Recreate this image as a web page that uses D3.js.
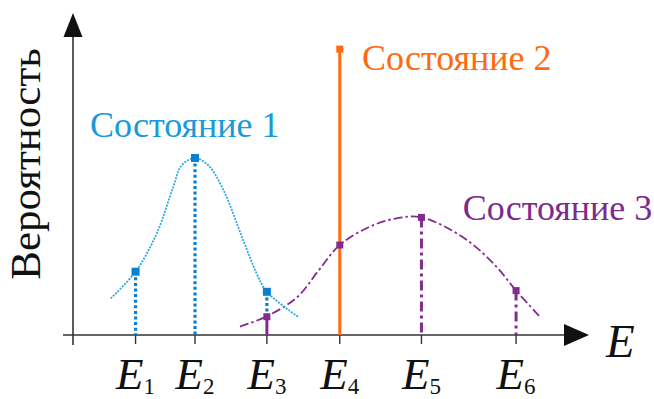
<!DOCTYPE html>
<html>
<head>
<meta charset="utf-8">
<script src="https://cdn.jsdelivr.net/npm/d3@7"></script>
<style>
  @font-face { font-family: "ChartSerif"; src: local("Liberation Serif"); font-style: normal; }
  @font-face { font-family: "ChartSerif"; src: local("Liberation Serif Italic"), local("LiberationSerif-Italic"); font-style: italic; }
  body { margin: 0; background: #fff; }
  svg text, svg tspan { font-family: "Liberation Serif", "ChartSerif", serif !important; }
</style>
</head>
<body>
<div id="chart"></div>
<script>
// energy levels (arbitrary units) and their labels
const levels = [1.21, 2.36, 3.75, 5.16, 6.74, 8.57];
const levelLabels = ["1", "2", "3", "4", "5", "6"];

// state 1 — narrow peak around E2 (curve)
const state1Curve = [
  [0.73, 0.122], [1.21, 0.211], [1.62, 0.339], [1.94, 0.494], [2.10, 0.565],
  [2.36, 0.59], [2.62, 0.565], [2.91, 0.483], [3.29, 0.317], [3.55, 0.206],
  [3.75, 0.144], [4.35, 0.061]
];
const state1Points = [[1.21, 0.211], [2.36, 0.59], [3.75, 0.144]];

// state 2 — single level E4
const state2Points = [[5.16, 0.953]];

// state 3 — broad peak around E5
const state3Curve = [
  [3.23, 0.028], [3.73, 0.061], [4.33, 0.125], [4.75, 0.215], [5.16, 0.30],
  [5.74, 0.361], [6.26, 0.389], [6.74, 0.392], [7.55, 0.325], [8.15, 0.235],
  [8.57, 0.148], [9.03, 0.061]
];
const state3Points = [[3.75, 0.061], [5.16, 0.30], [6.74, 0.392], [8.57, 0.148]];

// state labels: text, anchor position in data units, colour
const stateLabels = [
  { text: "Состояние 1", at: [0.33, 0.66], color: "#1a9ad9" },
  { text: "Состояние 2", at: [5.59, 0.883], color: "#ff6a10" },
  { text: "Состояние 3", at: [7.54, 0.383], color: "#7e2a8c" }
];

const width = 654, height = 399;
const blue = "#2aaae2", blueDark = "#0a7fd0", orange = "#ff6a10", purple = "#832c8e";
const face = '"Liberation Serif", "ChartSerif", serif';

const svg = d3.select("#chart").append("svg")
  .attr("width", width).attr("height", height)
  .style("display", "block");

const x = d3.scaleLinear().domain([0, 10]).range([73, 590]);
const y = d3.scaleLinear().domain([0, 1]).range([335, 35]);

const x0 = x(0), y0 = y(0);

// axes
svg.append("line")
  .attr("x1", x0 - 10).attr("x2", 575).attr("y1", y0).attr("y2", y0)
  .attr("stroke", "#333").attr("stroke-width", 1.6);
svg.append("line")
  .attr("x1", x0).attr("x2", x0).attr("y1", y0 + 10).attr("y2", 30)
  .attr("stroke", "#333").attr("stroke-width", 1.6);
svg.append("path")
  .attr("d", `M589,${y0} L564,${y0 - 11} L564,${y0 + 11} Z`)
  .attr("fill", "#111");
svg.append("path")
  .attr("d", `M${x0},13 L${x0 - 9.5},37 L${x0 + 9.5},37 Z`)
  .attr("fill", "#111");

// ticks
svg.selectAll(".tick").data(levels).enter().append("line")
  .attr("x1", d => x(d)).attr("x2", d => x(d))
  .attr("y1", y0).attr("y2", y0 + 9)
  .attr("stroke", "#333").attr("stroke-width", 1.4);

const line = d3.line().x(d => x(d[0])).y(d => y(d[1]))
  .curve(d3.curveCatmullRom.alpha(0.5));

// state 3 verticals
svg.selectAll(".v3").data(state3Points.filter((d, i) => i !== 1)).enter().append("line")
  .attr("x1", d => x(d[0])).attr("x2", d => x(d[0]))
  .attr("y1", d => y(d[1])).attr("y2", y0)
  .attr("stroke", purple).attr("stroke-width", 3)
  .attr("stroke-dasharray", (d, i) => i === 0 ? null : "10,4,3,4");

// state 1 verticals
svg.selectAll(".v1").data(state1Points).enter().append("line")
  .attr("x1", d => x(d[0])).attr("x2", d => x(d[0]))
  .attr("y1", d => y(d[1])).attr("y2", (d, i) => i === 2 ? y(state3Points[0][1]) : y0)
  .attr("stroke", blueDark).attr("stroke-width", 3.2)
  .attr("stroke-dasharray", "3,2.6");

// curves
svg.append("path").datum(state3Curve)
  .attr("d", line).attr("fill", "none")
  .attr("stroke", purple).attr("stroke-width", 1.8)
  .attr("stroke-dasharray", "9,3,2.5,3");
svg.append("path").datum(state1Curve)
  .attr("d", line).attr("fill", "none")
  .attr("stroke", blue).attr("stroke-width", 1.8)
  .attr("stroke-dasharray", "2,1.2");

// state 2 line
svg.selectAll(".v2").data(state2Points).enter().append("line")
  .attr("x1", d => x(d[0])).attr("x2", d => x(d[0]))
  .attr("y1", d => y(d[1])).attr("y2", y0)
  .attr("stroke", orange).attr("stroke-width", 3);

// markers
function markers(data, color, s) {
  svg.selectAll(null).data(data).enter().append("rect")
    .attr("x", d => x(d[0]) - s / 2).attr("y", d => y(d[1]) - s / 2)
    .attr("width", s).attr("height", s)
    .attr("fill", color);
}
markers(state1Points, blueDark, 8);
markers(state3Points, purple, 7);
markers(state2Points, orange, 7);

// tick labels E_i
const tl = svg.selectAll(".tl").data(levels).enter().append("text")
  .attr("x", d => x(d)).attr("y", 389)
  .style("font-family", face, "important")
  .attr("text-anchor", "middle").attr("fill", "#111");
tl.append("tspan").style("font-style", "italic").style("font-size", "45px").text("E");
tl.append("tspan").style("font-size", "23px").attr("dy", 5).text((d, i) => levelLabels[i]);

// axis titles
svg.selectAll(".xt").data(["E"]).enter().append("text")
  .attr("x", 606).attr("y", 357)
  .style("font-family", face, "important").style("font-style", "italic")
  .style("font-size", "47px").attr("fill", "#111")
  .text(d => d);
svg.selectAll(".yt").data(["Вероятность"]).enter().append("text")
  .attr("transform", "translate(40,164) rotate(-90)")
  .style("font-family", face, "important")
  .attr("text-anchor", "middle").style("font-size", "43px").attr("fill", "#111")
  .text(d => d);

// state labels
svg.selectAll(".sl").data(stateLabels).enter().append("text")
  .attr("x", d => x(d.at[0])).attr("y", d => y(d.at[1]))
  .style("font-family", face, "important")
  .style("font-size", "36px").attr("fill", d => d.color)
  .text(d => d.text);
</script>
</body>
</html>
